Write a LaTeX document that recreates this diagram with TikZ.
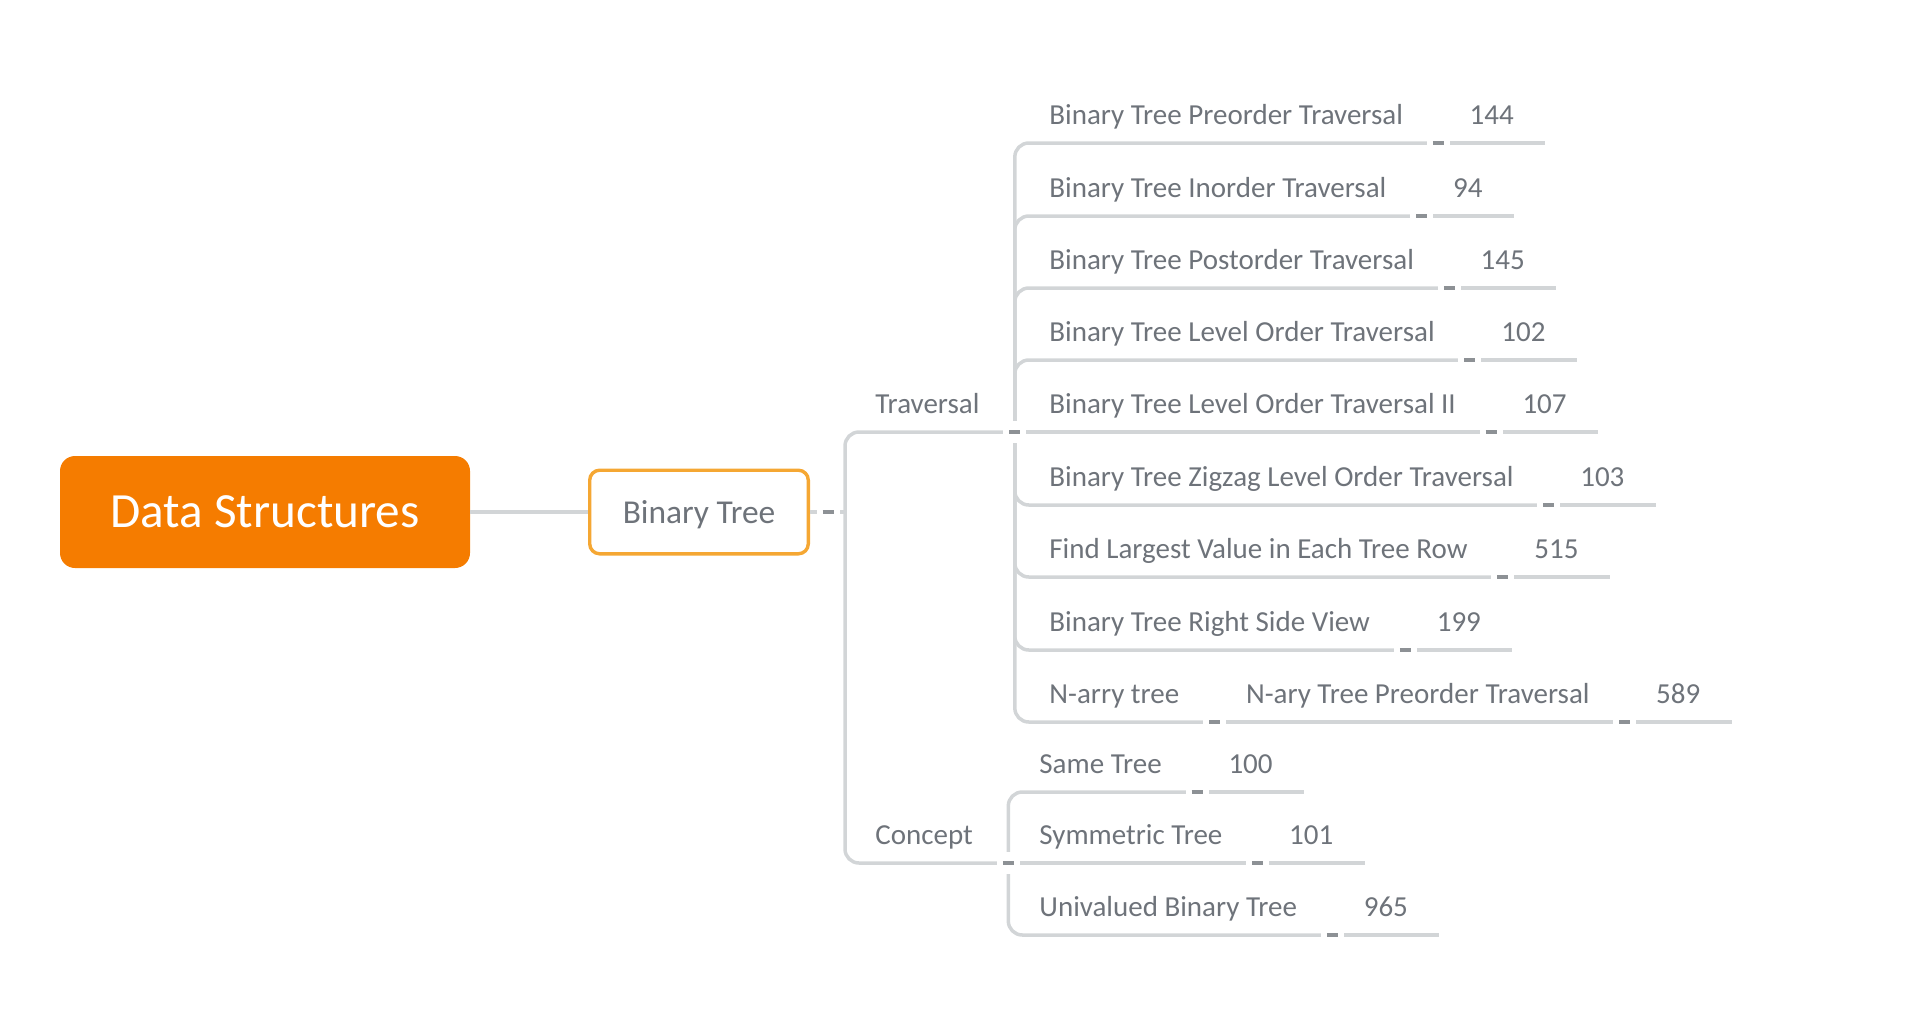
\documentclass[tikz,border=0pt]{standalone}
\usepackage{fontspec}
\setmainfont{Carlito}
\usetikzlibrary{positioning}
\definecolor{dsorange}{HTML}{F57C00}
\definecolor{btorange}{HTML}{F5A733}
\definecolor{txtgray}{HTML}{6E737A}
\definecolor{linegray}{HTML}{D2D5D7}
\definecolor{knobgray}{HTML}{8D9195}
\newcommand{\knobbar}{\textcolor{knobgray}{\rule{5.5pt}{1.8pt}}}
\tikzset{
  leaf/.style={anchor=south west, inner sep=0pt, text height=10pt, text depth=9pt,
    text=txtgray, font=\fontsize{14.5}{17}\selectfont},
  branch/.style={draw=linegray, line width=1.75pt, rounded corners=7pt},
  knob/.style={fill=white, inner xsep=3pt, inner ysep=4.6pt, outer sep=0pt},
}
\begin{document}
\begin{tikzpicture}[x=0.5pt,y=-0.5pt]
\useasboundingbox (0,0) rectangle (1918,1024);
% root and binary tree
\node[fill=dsorange, rounded corners=7.5pt, minimum width=205pt, minimum height=56pt,
  text=white, font=\fontsize{24.6}{29}\selectfont] (ds) at (265,512) {Data Structures};
\node[draw=btorange, line width=1.7pt, fill=white, rounded corners=5pt, minimum width=109.3pt,
  minimum height=41.8pt, text depth=0pt, text=txtgray, font=\fontsize{16.7}{19}\selectfont] (bt) at (699,512) {Binary Tree};
\coordinate[right=9pt of bt.east] (kbt);
\coordinate[right=17.5pt of bt.east] (sp);
% second level
\node[leaf] (trav) at (875,432) {Traversal};
\node[leaf] (con) at (875,863) {Concept};
\coordinate (ktrav) at ([xshift=17.5pt]trav.south east);
\coordinate (kcon) at ([xshift=17.5pt]con.south east);
% traversal problems
\foreach \y/\p/\t/\n in {143/pre/Binary Tree Preorder Traversal/144,
  216/ino/Binary Tree Inorder Traversal/94,
  288/post/Binary Tree Postorder Traversal/145,
  360/lvl/Binary Tree Level Order Traversal/102,
  432/lvltwo/Binary Tree Level Order Traversal II/107,
  505/zig/Binary Tree Zigzag Level Order Traversal/103,
  577/lrg/Find Largest Value in Each Tree Row/515,
  650/rsv/Binary Tree Right Side View/199}{
  \node[leaf] (\p) at (1049,\y) {\t};
  \node[leaf, base right=33pt of \p] (n\p) {\n};
  \coordinate (k\p) at ([xshift=17.5pt]\p.south east);
}
\node[leaf] (nat) at (1049,722) {N-arry tree};
\node[leaf, base right=33pt of nat] (natp) {N-ary Tree Preorder Traversal};
\node[leaf, base right=33pt of natp] (nnatp) {589};
\coordinate (knat) at ([xshift=17.5pt]nat.south east);
\coordinate (knatp) at ([xshift=17.5pt]natp.south east);
% concept problems
\foreach \y/\p/\t/\n in {792/same/Same Tree/100,
  863/sym/Symmetric Tree/101,
  935/uni/Univalued Binary Tree/965}{
  \node[leaf] (\p) at (1039,\y) {\t};
  \node[leaf, base right=33pt of \p] (n\p) {\n};
  \coordinate (k\p) at ([xshift=17.5pt]\p.south east);
}
% branches
\draw[branch] (ds) -- (bt);
\draw[branch] (bt) -- (sp);
\draw[branch] (sp) |- (ktrav);
\draw[branch] (sp) |- (kcon);
\foreach \p in {pre,ino,post,lvl,zig,lrg,rsv,nat}
  \draw[branch] (ktrav) |- (k\p);
\draw[branch] (ktrav) -- (klvltwo);
\foreach \p in {same,uni}
  \draw[branch] (kcon) |- (k\p);
\draw[branch] (kcon) -- (ksym);
\draw[branch] (knat) -- (knatp);
\foreach \p in {pre,ino,post,lvl,lvltwo,zig,lrg,rsv,natp,same,sym,uni}
  \draw[branch] (k\p) -- ([xshift=15.5pt]n\p.south east);
% collapse knobs
\foreach \k in {kbt,ktrav,kcon,kpre,kino,kpost,klvl,klvltwo,kzig,klrg,krsv,knat,knatp,ksame,ksym,kuni}
  \node[knob] at (\k) {\knobbar};
\end{tikzpicture}
\end{document}
